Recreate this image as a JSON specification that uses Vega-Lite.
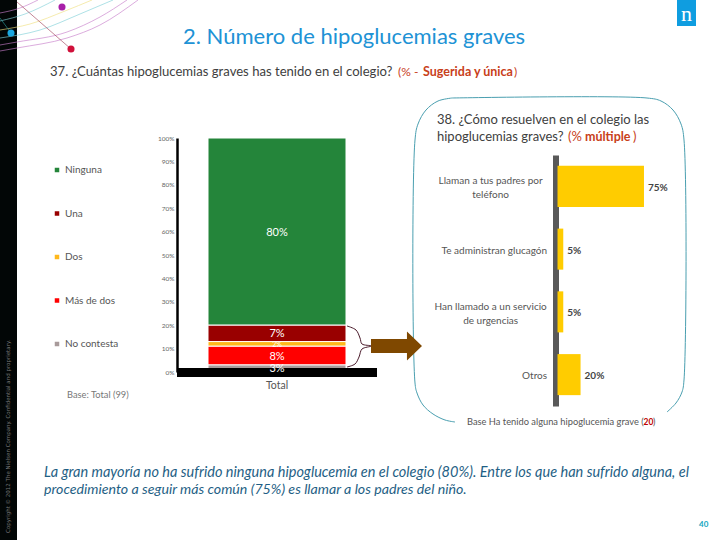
{
  "$schema": "https://vega.github.io/schema/vega-lite/v6.json",
  "width": 720,
  "height": 540,
  "autosize": "none",
  "padding": 0,
  "background": "white",
  "config": {"view": {"stroke": null}, "font": "Lato", "text": {"font": "Lato"}},
  "datasets": {
    "respuestas": [
      {"respuesta": "Ninguna", "pct": 0.80, "rank": 5, "etiqueta": "80%", "col": "Total"},
      {"respuesta": "Una", "pct": 0.07, "rank": 4, "etiqueta": "7%", "col": "Total"},
      {"respuesta": "Dos", "pct": 0.02, "rank": 3, "etiqueta": "2%", "col": "Total"},
      {"respuesta": "Más de dos", "pct": 0.08, "rank": 2, "etiqueta": "8%", "col": "Total"},
      {"respuesta": "No contesta", "pct": 0.03, "rank": 1, "etiqueta": "3%", "col": "Total"}
    ],
    "resuelven": [
      {"accion": "Llaman a tus padres por|teléfono", "pct": 75, "etiqueta": "75%", "lineas": 2},
      {"accion": "Te administran glucagón", "pct": 5, "etiqueta": "5%", "lineas": 1},
      {"accion": "Han llamado a un servicio|de urgencias", "pct": 5, "etiqueta": "5%", "lineas": 2},
      {"accion": "Otros", "pct": 20, "etiqueta": "20%", "lineas": 1}
    ],
    "curvas": [
      {"c": "a", "x": 0, "y": 51, "o": 1}, {"c": "a", "x": 17, "y": 48, "o": 2}, {"c": "a", "x": 67, "y": 38, "o": 3}, {"c": "a", "x": 100, "y": 25, "o": 4}, {"c": "a", "x": 138, "y": 0, "o": 5},
      {"c": "b", "x": 0, "y": 45, "o": 1}, {"c": "b", "x": 17, "y": 42, "o": 2}, {"c": "b", "x": 67, "y": 32, "o": 3}, {"c": "b", "x": 100, "y": 17, "o": 4}, {"c": "b", "x": 127, "y": 0, "o": 5},
      {"c": "c", "x": 0, "y": 38, "o": 1}, {"c": "c", "x": 40, "y": 30, "o": 2}, {"c": "c", "x": 80, "y": 14, "o": 3}, {"c": "c", "x": 113, "y": 0, "o": 4},
      {"c": "d", "x": 0, "y": 30, "o": 1}, {"c": "d", "x": 30, "y": 24, "o": 2}, {"c": "d", "x": 65, "y": 11, "o": 3}, {"c": "d", "x": 92, "y": 0, "o": 4},
      {"c": "e", "x": 0, "y": 21, "o": 1}, {"c": "e", "x": 25, "y": 14, "o": 2}, {"c": "e", "x": 55, "y": 0, "o": 3},
      {"c": "f", "x": 0, "y": 13, "o": 1}, {"c": "f", "x": 20, "y": 8, "o": 2}, {"c": "f", "x": 38, "y": 0, "o": 3},
      {"c": "g", "x": 17, "y": 2, "o": 1}, {"c": "g", "x": 71, "y": 49, "o": 2},
      {"c": "h", "x": 0, "y": 18, "o": 1}, {"c": "h", "x": 11, "y": 33, "o": 2}
    ],
    "marco": [
      {"x": 452, "y": 98, "o": 1}, {"x": 438, "y": 101, "o": 2}, {"x": 426, "y": 110, "o": 3}, {"x": 418, "y": 124, "o": 4}, {"x": 415, "y": 140, "o": 5},
      {"x": 415, "y": 383, "o": 6}, {"x": 417, "y": 393, "o": 7}, {"x": 423, "y": 405, "o": 8}, {"x": 433, "y": 414, "o": 9}, {"x": 445, "y": 420, "o": 10}, {"x": 455, "y": 422, "o": 11}
    ],
    "marco2": [
      {"x": 452, "y": 98, "o": 1}, {"x": 647, "y": 98, "o": 2}, {"x": 661, "y": 101, "o": 3}, {"x": 673, "y": 110, "o": 4}, {"x": 681, "y": 124, "o": 5}, {"x": 684, "y": 140, "o": 6},
      {"x": 684, "y": 380, "o": 7}, {"x": 682, "y": 392, "o": 8}, {"x": 676, "y": 403, "o": 9}, {"x": 667, "y": 412, "o": 10}
    ],
    "llave": [
      {"x": 347, "y": 326, "o": 1}, {"x": 356, "y": 330, "o": 2}, {"x": 360, "y": 338, "o": 3}, {"x": 362, "y": 344, "o": 4}, {"x": 371, "y": 346, "o": 5},
      {"x": 362, "y": 349, "o": 6}, {"x": 359, "y": 357, "o": 7}, {"x": 355, "y": 364, "o": 8}, {"x": 347, "y": 367, "o": 9}
    ]
  },
  "resolve": {"scale": {"x": "independent", "y": "independent", "color": "independent"}, "axis": {"x": "independent", "y": "independent"}},
  "layer": [
    {
      "layer": [
        {
          "data": {"values": [{"zona": "franja"}]},
          "mark": {"type": "rect", "fill": "#020606"},
          "encoding": {
            "x": {"datum": 0, "type": "quantitative", "scale": {"domain": [0, 720], "range": [0, 720], "nice": false, "zero": false}, "axis": null},
            "x2": {"datum": 17},
            "y": {"datum": 0, "type": "quantitative", "scale": {"domain": [0, 540], "range": [0, 540], "nice": false, "zero": false}, "axis": null},
            "y2": {"datum": 540}
          }
        },
        {
          "data": {"name": "curvas"},
          "mark": {"type": "line", "interpolate": "monotone", "strokeWidth": 0.8, "opacity": 0.8},
          "encoding": {
            "x": {"field": "x", "type": "quantitative"},
            "y": {"field": "y", "type": "quantitative"},
            "detail": {"field": "c"},
            "order": {"field": "o"},
            "color": {"field": "c", "type": "nominal", "legend": null, "scale": {"domain": ["a", "b", "c", "d", "e", "f", "g", "h"], "range": ["#c77cc9", "#c77cc9", "#7fd0d8", "#f0e080", "#7fd0d8", "#c77cc9", "#a0405a", "#2a9a9a"]}}
          }
        },
        {
          "data": {"values": [{"punto": "a"}]},
          "mark": {"type": "circle", "size": 50, "color": "#a81fa8", "opacity": 1},
          "encoding": {"x": {"datum": 62, "type": "quantitative"}, "y": {"datum": 7, "type": "quantitative"}}
        },
        {
          "data": {"values": [{"punto": "b"}]},
          "mark": {"type": "circle", "size": 50, "color": "#1aa7e0", "opacity": 1},
          "encoding": {"x": {"datum": 11, "type": "quantitative"}, "y": {"datum": 33, "type": "quantitative"}}
        },
        {
          "data": {"values": [{"punto": "c"}]},
          "mark": {"type": "circle", "size": 50, "color": "#d0103a", "opacity": 1},
          "encoding": {"x": {"datum": 71, "type": "quantitative"}, "y": {"datum": 49, "type": "quantitative"}}
        },
        {
          "data": {"values": [{"txt": "Copyright © 2012 The Nielsen Company. Confidential and proprietary."}]},
          "mark": {"type": "text", "angle": 270, "align": "left", "baseline": "middle", "fontSize": 5.5, "color": "#777777", "font": "DejaVu Sans"},
          "encoding": {"text": {"field": "txt"}, "x": {"datum": 8, "type": "quantitative"}, "y": {"datum": 533, "type": "quantitative"}}
        },
        {
          "data": {"values": [{"zona": "logo"}]},
          "mark": {"type": "rect", "fill": "#0f9de0"},
          "encoding": {"x": {"datum": 677, "type": "quantitative"}, "x2": {"datum": 696}, "y": {"datum": 0, "type": "quantitative"}, "y2": {"datum": 26}}
        },
        {
          "data": {"values": [{"txt": "n"}]},
          "mark": {"type": "text", "align": "center", "baseline": "middle", "fontSize": 22, "color": "white", "font": "Liberation Serif"},
          "encoding": {"text": {"field": "txt"}, "x": {"datum": 686.5, "type": "quantitative"}, "y": {"datum": 14, "type": "quantitative"}}
        },
        {
          "data": {"values": [{"txt": "2. Número de hipoglucemias graves"}]},
          "mark": {"type": "text", "align": "left", "baseline": "middle", "fontSize": 22, "color": "#2092d5"},
          "encoding": {"text": {"field": "txt"}, "x": {"datum": 183, "type": "quantitative"}, "y": {"datum": 37, "type": "quantitative"}}
        },
        {
          "data": {"values": [{"txt": "37. ¿Cuántas hipoglucemias graves has tenido en el colegio?"}]},
          "mark": {"type": "text", "align": "left", "baseline": "middle", "fontSize": 13.1, "color": "#404040"},
          "encoding": {"text": {"field": "txt"}, "x": {"datum": 50, "type": "quantitative"}, "y": {"datum": 72, "type": "quantitative"}}
        },
        {
          "data": {"values": [{"txt": "(% -"}]},
          "mark": {"type": "text", "align": "left", "baseline": "middle", "fontSize": 12, "color": "#c8401a"},
          "encoding": {"text": {"field": "txt"}, "x": {"datum": 398, "type": "quantitative"}, "y": {"datum": 72, "type": "quantitative"}}
        },
        {
          "data": {"values": [{"txt": "Sugerida y única"}]},
          "mark": {"type": "text", "align": "left", "baseline": "middle", "fontSize": 12.5, "fontWeight": "bold", "color": "#c8401a"},
          "encoding": {"text": {"field": "txt"}, "x": {"datum": 423, "type": "quantitative"}, "y": {"datum": 72, "type": "quantitative"}}
        },
        {
          "data": {"values": [{"txt": ")"}]},
          "mark": {"type": "text", "align": "left", "baseline": "middle", "fontSize": 12, "color": "#c8401a"},
          "encoding": {"text": {"field": "txt"}, "x": {"datum": 514, "type": "quantitative"}, "y": {"datum": 72, "type": "quantitative"}}
        },
        {
          "data": {"values": [{"txt": "Base: Total (99)"}]},
          "mark": {"type": "text", "align": "left", "baseline": "middle", "fontSize": 9.3, "color": "#777777"},
          "encoding": {"text": {"field": "txt"}, "x": {"datum": 67, "type": "quantitative"}, "y": {"datum": 395, "type": "quantitative"}}
        },
        {
          "data": {"name": "marco"},
          "mark": {"type": "line", "color": "#4a9fb0", "strokeWidth": 1, "interpolate": "catmull-rom"},
          "encoding": {"x": {"field": "x", "type": "quantitative"}, "y": {"field": "y", "type": "quantitative"}, "order": {"field": "o"}}
        },
        {
          "data": {"name": "marco2"},
          "mark": {"type": "line", "color": "#4a9fb0", "strokeWidth": 1, "interpolate": "catmull-rom"},
          "encoding": {"x": {"field": "x", "type": "quantitative"}, "y": {"field": "y", "type": "quantitative"}, "order": {"field": "o"}}
        },
        {
          "data": {"values": [{"txt": "38. ¿Cómo resuelven en el colegio las"}]},
          "mark": {"type": "text", "align": "left", "baseline": "middle", "fontSize": 13, "color": "#404040"},
          "encoding": {"text": {"field": "txt"}, "x": {"datum": 437, "type": "quantitative"}, "y": {"datum": 120, "type": "quantitative"}}
        },
        {
          "data": {"values": [{"txt": "hipoglucemias graves?"}]},
          "mark": {"type": "text", "align": "left", "baseline": "middle", "fontSize": 13, "color": "#404040"},
          "encoding": {"text": {"field": "txt"}, "x": {"datum": 437, "type": "quantitative"}, "y": {"datum": 137, "type": "quantitative"}}
        },
        {
          "data": {"values": [{"txt": "(%"}]},
          "mark": {"type": "text", "align": "left", "baseline": "middle", "fontSize": 13, "color": "#c8401a"},
          "encoding": {"text": {"field": "txt"}, "x": {"datum": 568, "type": "quantitative"}, "y": {"datum": 137, "type": "quantitative"}}
        },
        {
          "data": {"values": [{"txt": "múltiple"}]},
          "mark": {"type": "text", "align": "left", "baseline": "middle", "fontSize": 12.5, "fontWeight": "bold", "color": "#c8401a"},
          "encoding": {"text": {"field": "txt"}, "x": {"datum": 585, "type": "quantitative"}, "y": {"datum": 137, "type": "quantitative"}}
        },
        {
          "data": {"values": [{"txt": ")"}]},
          "mark": {"type": "text", "align": "left", "baseline": "middle", "fontSize": 13, "color": "#c8401a"},
          "encoding": {"text": {"field": "txt"}, "x": {"datum": 633, "type": "quantitative"}, "y": {"datum": 137, "type": "quantitative"}}
        },
        {
          "data": {"name": "llave"},
          "mark": {"type": "line", "color": "#4a1a2a", "strokeWidth": 1, "interpolate": "catmull-rom"},
          "encoding": {"x": {"field": "x", "type": "quantitative"}, "y": {"field": "y", "type": "quantitative"}, "order": {"field": "o"}}
        },
        {
          "data": {"values": [{"zona": "flecha"}]},
          "mark": {"type": "point", "filled": true, "opacity": 1, "color": "#7f4800", "size": 2601, "shape": "M-1,-0.275L0.41,-0.275L0.41,-0.57L1,0L0.41,0.57L0.41,0.275L-1,0.275Z"},
          "encoding": {"x": {"datum": 396.5, "type": "quantitative"}, "y": {"datum": 346, "type": "quantitative"}}
        },
        {
          "data": {"values": [{"txt": "Base Ha tenido alguna hipoglucemia grave ("}]},
          "mark": {"type": "text", "align": "left", "baseline": "middle", "fontSize": 9.3, "color": "#555555"},
          "encoding": {"text": {"field": "txt"}, "x": {"datum": 467, "type": "quantitative"}, "y": {"datum": 422, "type": "quantitative"}}
        },
        {
          "data": {"values": [{"txt": "20"}]},
          "mark": {"type": "text", "align": "left", "baseline": "middle", "fontSize": 8.5, "fontWeight": "bold", "color": "#c00000"},
          "encoding": {"text": {"field": "txt"}, "x": {"datum": 643.5, "type": "quantitative"}, "y": {"datum": 422, "type": "quantitative"}}
        },
        {
          "data": {"values": [{"txt": ")"}]},
          "mark": {"type": "text", "align": "left", "baseline": "middle", "fontSize": 9, "color": "#555555"},
          "encoding": {"text": {"field": "txt"}, "x": {"datum": 653, "type": "quantitative"}, "y": {"datum": 422, "type": "quantitative"}}
        },
        {
          "data": {"values": [{"txt": "La gran mayoría no ha sufrido ninguna hipoglucemia en el colegio (80%). Entre los que han sufrido alguna, el"}]},
          "mark": {"type": "text", "align": "left", "baseline": "middle", "fontSize": 14.5, "fontStyle": "italic", "color": "#1f5f85"},
          "encoding": {"text": {"field": "txt"}, "x": {"datum": 44, "type": "quantitative"}, "y": {"datum": 473, "type": "quantitative"}}
        },
        {
          "data": {"values": [{"txt": "procedimiento a seguir más común (75%) es llamar a los padres del niño."}]},
          "mark": {"type": "text", "align": "left", "baseline": "middle", "fontSize": 14.2, "fontStyle": "italic", "color": "#1f5f85"},
          "encoding": {"text": {"field": "txt"}, "x": {"datum": 44, "type": "quantitative"}, "y": {"datum": 490, "type": "quantitative"}}
        },
        {
          "data": {"values": [{"txt": "40"}]},
          "mark": {"type": "text", "align": "left", "baseline": "middle", "fontSize": 8, "fontWeight": "bold", "color": "#12a5c0"},
          "encoding": {"text": {"field": "txt"}, "x": {"datum": 699, "type": "quantitative"}, "y": {"datum": 525, "type": "quantitative"}}
        }
      ]
    },
    {
      "data": {"name": "respuestas"},
      "mark": {"type": "bar", "stroke": "white", "strokeWidth": 1},
      "encoding": {
        "x": {
          "field": "col",
          "type": "nominal",
          "scale": {"type": "band", "range": [208, 346], "paddingInner": 0, "paddingOuter": 0},
          "axis": {"orient": "bottom", "offset": -163, "domain": false, "ticks": false, "labelAngle": 0, "labelFontSize": 10.5, "labelColor": "#555555", "labelPadding": 3, "title": null, "grid": false}
        },
        "y": {
          "field": "pct",
          "type": "quantitative",
          "scale": {"domain": [0, 1], "range": [372, 138], "nice": false},
          "axis": {"orient": "left", "offset": -177, "domainWidth": 2.5, "domainColor": "black", "ticks": false, "tickCount": 11, "format": ".0%", "labelFontSize": 6.5, "labelColor": "#666666", "labelPadding": 3, "title": null, "grid": false}
        },
        "order": {"field": "rank"},
        "color": {
          "field": "respuesta",
          "type": "nominal",
          "scale": {"domain": ["Ninguna", "Una", "Dos", "Más de dos", "No contesta"], "range": ["#24853a", "#990000", "#ffb81c", "#ff0000", "#a89a9a"]},
          "legend": {"orient": "none", "legendX": 52, "legendY": 165, "title": null, "symbolType": "square", "symbolSize": 36, "labelFontSize": 10, "labelColor": "#555555", "labelFont": "Lato", "labelOffset": 3, "rowPadding": 31.5, "padding": 0}
        }
      }
    },
    {
      "data": {"values": [{"zona": "base"}]},
      "mark": {"type": "rect", "fill": "black"},
      "encoding": {
        "x": {"datum": 177, "type": "quantitative", "scale": {"domain": [0, 720], "range": [0, 720], "nice": false, "zero": false}, "axis": null},
        "x2": {"datum": 377},
        "y": {"datum": 368, "type": "quantitative", "scale": {"domain": [0, 540], "range": [0, 540], "nice": false, "zero": false}, "axis": null},
        "y2": {"datum": 377}
      }
    },
    {
      "data": {"name": "respuestas"},
      "mark": {"type": "text", "color": "white", "dy": 1},
      "encoding": {
        "x": {"field": "col", "type": "nominal", "scale": {"type": "band", "range": [208, 346], "paddingInner": 0, "paddingOuter": 0}, "axis": null},
        "y": {"field": "pct", "type": "quantitative", "stack": "zero", "bandPosition": 0.5, "scale": {"domain": [0, 1], "range": [372, 138], "nice": false}, "axis": null},
        "order": {"field": "rank"},
        "detail": {"field": "respuesta"},
        "text": {"field": "etiqueta"},
        "size": {"condition": {"test": "datum.pct < 0.025", "value": 7}, "value": 11}
      }
    },
    {
      "data": {"name": "resuelven"},
      "encoding": {
        "y": {
          "field": "accion",
          "type": "nominal",
          "sort": null,
          "scale": {"type": "band", "range": [155, 406], "paddingInner": 0.346, "paddingOuter": 0.173},
          "axis": {"orient": "left", "offset": -555.5, "domainWidth": 6, "domainColor": "#595959", "ticks": false, "labels": false, "title": null, "grid": false}
        },
        "x": {"field": "pct", "type": "quantitative", "scale": {"domain": [0, 100], "range": [557.5, 672.8], "nice": false}, "axis": null}
      },
      "layer": [
        {"mark": {"type": "bar", "color": "#ffcc00"}},
        {
          "mark": {"type": "text", "align": "left", "dx": 4, "dy": 1.5, "fontSize": 10, "fontWeight": "bold", "color": "#444444"},
          "encoding": {"text": {"field": "etiqueta"}}
        },
        {
          "transform": [{"filter": "datum.lineas == 1"}],
          "mark": {"type": "text", "align": "right", "dy": 1.5, "fontSize": 10, "color": "#555555", "lineBreak": "|"},
          "encoding": {"text": {"field": "accion"}, "x": {"datum": -9, "type": "quantitative"}}
        },
        {
          "transform": [{"filter": "datum.lineas == 2"}],
          "mark": {"type": "text", "align": "center", "dy": -5, "fontSize": 10, "lineHeight": 14, "color": "#555555", "lineBreak": "|"},
          "encoding": {"text": {"field": "accion"}, "x": {"datum": -58, "type": "quantitative"}}
        }
      ]
    }
  ]
}
